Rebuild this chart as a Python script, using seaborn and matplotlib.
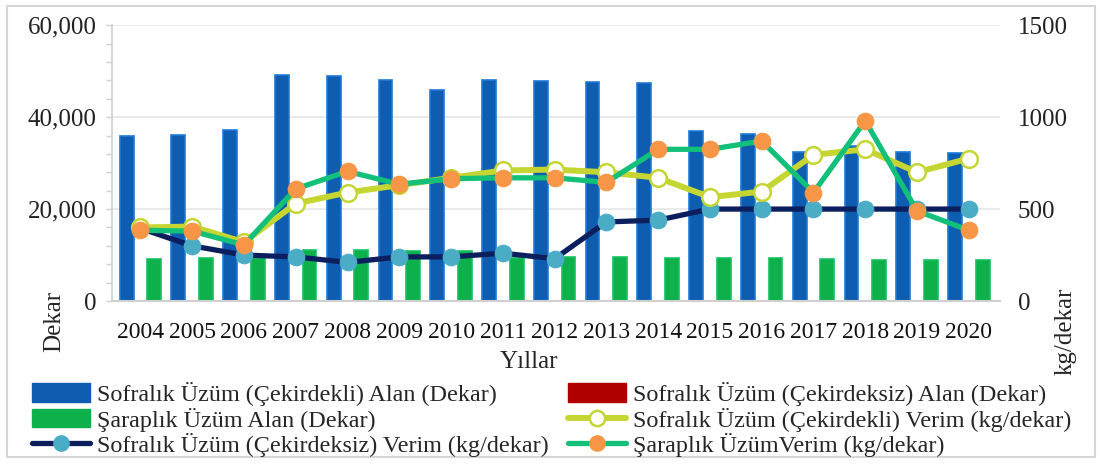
import numpy as np
import pandas as pd
import matplotlib
matplotlib.use("Agg")
import matplotlib.pyplot as plt
from matplotlib.ticker import FuncFormatter, MultipleLocator, FixedLocator
from matplotlib.patches import Rectangle
from matplotlib.lines import Line2D
import seaborn as sns

years = [str(y) for y in range(2004, 2021)]
alan_cekirdekli = [35900, 36200, 37100, 49200, 49000, 48000, 45800, 48100, 47900, 47700, 47500,
                   37000, 36300, 32500, 33700, 32500, 32100]
alan_cekirdeksiz = [0] * 17
alan_sarap = [9100, 9300, 9300, 11200, 11200, 10900, 10900, 9400, 9500, 9500, 9400,
              9400, 9400, 9100, 9000, 8900, 9000]
verim_cekirdekli = [400, 405, 320, 530, 590, 630, 670, 710, 715, 700, 670,
                    565, 595, 795, 825, 700, 775]
verim_cekirdeksiz = [395, 300, 250, 240, 210, 240, 240, 260, 230, 430, 440,
                     500, 500, 500, 500, 500, 500]
verim_sarap = [385, 380, 305, 610, 705, 635, 665, 670, 670, 645, 825,
               825, 870, 590, 980, 490, 385]

bar_names = ["Sofralık Üzüm (Çekirdekli) Alan (Dekar)",
             "Sofralık Üzüm (Çekirdeksiz) Alan (Dekar)",
             "Şaraplık Üzüm Alan (Dekar)"]
line_names = ["Sofralık Üzüm (Çekirdekli) Verim (kg/dekar)",
              "Sofralık Üzüm (Çekirdeksiz) Verim (kg/dekar)",
              "Şaraplık ÜzümVerim (kg/dekar)"]

sns.set_theme(style="white")
plt.rcParams['font.family'] = ['Liberation Serif', 'DejaVu Serif']

bar_df = pd.DataFrame({
    "Yıl": years * 3,
    "Alan": alan_cekirdekli + alan_cekirdeksiz + alan_sarap,
    "Seri": [bar_names[0]] * 17 + [bar_names[1]] * 17 + [bar_names[2]] * 17,
})
bar_colors = ["#0F5DB0", "#B00000", "#0DB04B"]

fig = plt.figure(figsize=(11.03, 4.66), dpi=100)
ax = fig.add_axes([0.1015, 0.354, 0.805, 0.592])
sns.barplot(data=bar_df, x="Yıl", y="Alan", hue="Seri", palette=bar_colors,
            width=0.8, ax=ax, legend=False, saturation=1, edgecolor="none")
# light edges to mimic the bevelled look of the reference bars
for i, cont in enumerate(ax.containers):
    for p in cont:
        p.set_edgecolor(["#1C7AD8", "#C00000", "#16C060"][i])
        p.set_linewidth(1.2)
ax.set_ylim(0, 60000)
ax.set_xlim(-0.55, 16.6)
ax.yaxis.set_major_locator(FixedLocator([0, 20000, 40000, 60000]))
ax.yaxis.set_minor_locator(MultipleLocator(4000))
ax.yaxis.set_major_formatter(FuncFormatter(lambda v, p: f"{int(v):,}"))
ax.grid(axis="y", which="major", color="#E6E6E6", linewidth=1.2)
ax.set_axisbelow(True)
for s in ["top", "right"]:
    ax.spines[s].set_visible(False)
ax.spines["left"].set_color("#D0D0D0")
ax.spines["bottom"].set_color("#D0D0D0")
ax.spines["left"].set_linewidth(1.2)
ax.spines["bottom"].set_linewidth(1.5)
ax.tick_params(axis="y", which="major", left=True, labelsize=18, length=4, width=1,
               pad=7, colors="#222222")
ax.tick_params(axis="y", which="major", color="#D0D0D0")
ax.tick_params(axis="y", which="minor", left=True, length=4, color="#D0D0D0", width=1)
ax.tick_params(axis="x", labelsize=17, length=0, pad=15, colors="#111111")
ax.set_xlabel("")
ax.set_ylabel("")

ax2 = ax.twinx()
x = np.arange(len(years))
line_df = pd.DataFrame({"x": x, "a": verim_cekirdeksiz, "b": verim_cekirdekli, "c": verim_sarap})
sns.lineplot(data=line_df, x="x", y="a", ax=ax2, color="#0B1F5E", linewidth=3.8,
             marker="o", markersize=12, markerfacecolor="#4BACC6", markeredgecolor="#4BACC6")
sns.lineplot(data=line_df, x="x", y="b", ax=ax2, color="#C5D633", linewidth=4.3,
             marker="o", markersize=12, markerfacecolor="white", markeredgecolor="#C5D633",
             markeredgewidth=1.8)
sns.lineplot(data=line_df, x="x", y="c", ax=ax2, color="#12C07A", linewidth=3.8,
             marker="o", markersize=12, markerfacecolor="#F79646", markeredgecolor="#F79646")
ax2.set_ylim(0, 1500)
ax2.set_xlim(-0.55, 16.6)
ax2.yaxis.set_major_locator(FixedLocator([0, 500, 1000, 1500]))
ax2.tick_params(axis="y", labelsize=18, length=0, pad=13, colors="#222222")
ax2.set_ylabel("")
ax2.set_xlabel("")
for s in ["top", "right", "left", "bottom"]:
    ax2.spines[s].set_visible(False)
ax2.grid(False)

fig.text(0.4796, 0.223, "Yıllar", fontsize=18, ha="center", va="center")
fig.text(0.049, 0.311, "Dekar", fontsize=18, rotation=90, ha="center", va="center")
fig.text(0.966, 0.290, "kg/dekar", fontsize=18, rotation=90, ha="center", va="center")

handles = [
    Rectangle((0, 0), 1, 1, color=bar_colors[0]),
    Rectangle((0, 0), 1, 1, color=bar_colors[2]),
    Line2D([], [], color="#0B1F5E", lw=3.8, marker="o", ms=11, mfc="#4BACC6", mec="#4BACC6"),
    Rectangle((0, 0), 1, 1, color=bar_colors[1]),
    Line2D([], [], color="#C5D633", lw=4.3, marker="o", ms=11, mfc="white", mec="#C5D633", mew=1.8),
    Line2D([], [], color="#12C07A", lw=3.8, marker="o", ms=11, mfc="#F79646", mec="#F79646"),
]
labels = [bar_names[0], bar_names[2], line_names[1], bar_names[1], line_names[0], line_names[2]]
fig.legend(handles, labels, loc="upper left", bbox_to_anchor=(0.029, 0.18), ncol=2,
           frameon=False, fontsize=17.4, handlelength=2.4, handleheight=0.8,
           columnspacing=0.8, labelspacing=0.06, handletextpad=0.3, borderpad=0,
           borderaxespad=0)

fig.add_artist(Rectangle((0.0063, 0.0193), 0.9864, 0.9678, transform=fig.transFigure,
                         fill=False, edgecolor="#D6D6D6", linewidth=1.5))

fig.savefig("out.png", dpi=100)
